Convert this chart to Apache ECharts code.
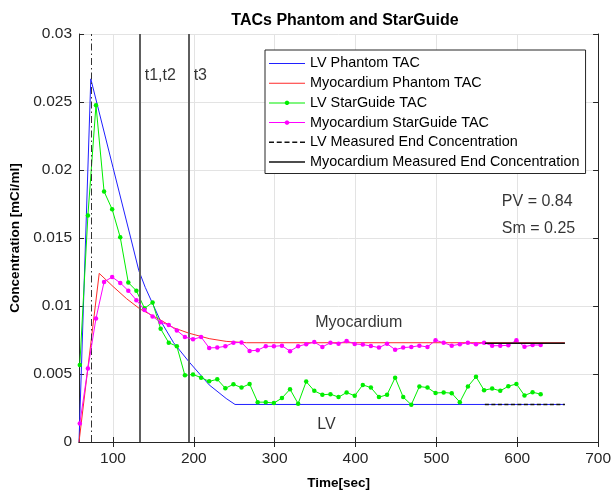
<!DOCTYPE html>
<html>
<head>
<meta charset="utf-8">
<script src="https://cdn.jsdelivr.net/npm/echarts@6/dist/echarts.min.js"></script>
<style>html,body{margin:0;padding:0;background:#fff}#c{width:614px;height:495px}</style>
</head>
<body>
<div id="c"></div>
<script>
// ---- data ----
const times = [59,69,79,89,99,109,119,129,139,149,159,169,179,189,199,209,219,229,239,249,259,269,279,289,299,309,319,329,339,349,359,369,379,389,399,409,419,429,439,449,459,469,479,489,499,509,519,529,539,549,559,569,579,589,599,609,619,629];
const lvStarGuide = [0.00566,0.01665,0.02477,0.01842,0.01711,0.01505,0.01172,0.01112,0.00983,0.01026,0.00832,0.00730,0.00704,0.00490,0.00497,0.00473,0.00446,0.00461,0.00395,0.00424,0.00400,0.00427,0.00293,0.00293,0.00286,0.00323,0.00388,0.00282,0.00444,0.00376,0.00347,0.00352,0.00330,0.00364,0.00340,0.00420,0.00400,0.00330,0.00347,0.00473,0.00330,0.00274,0.00408,0.00400,0.00360,0.00364,0.00359,0.00293,0.00408,0.00480,0.00381,0.00393,0.00376,0.00410,0.00427,0.00342,0.00366,0.00352];
const myoStarGuide = [0.00136,0.00541,0.00908,0.01177,0.01213,0.01170,0.01112,0.01043,0.00971,0.00922,0.00881,0.00861,0.00820,0.00772,0.00755,0.00772,0.00692,0.00694,0.00704,0.00730,0.00732,0.00670,0.00675,0.00704,0.00704,0.00708,0.00668,0.00704,0.00719,0.00735,0.00699,0.00730,0.00723,0.00743,0.00721,0.00716,0.00706,0.00694,0.00723,0.00679,0.00694,0.00699,0.00708,0.00699,0.00748,0.00730,0.00708,0.00719,0.00730,0.00719,0.00730,0.00708,0.00708,0.00711,0.00748,0.00701,0.00713,0.00713];
const lvPhantomTime = [58,72.6,100,122,132,140,158,175,194,219,240,251,659];
const lvPhantom = [0,0.0267,0.0202,0.0150,0.0126,0.01136,0.0090,0.0073,0.0059,0.0042,0.0032,0.00276,0.00276];
const myoPhantomTime = [58,83,100,117,133,158,175,194,219,240,265,659];
const myoPhantom = [0,0.0124,0.01144,0.01053,0.0098,0.0090,0.0084,0.0080,0.0076,0.0074,0.0073,0.0073];
const endTime = [560,659];
const lvEndValue = [0.00275,0.00275];
const myoEndValue = [0.00726,0.00726];
const peakTime = 72.6;
const timeLines = [133.3,193.7];
const xTicks = [100,200,300,400,500,600,700];
const yTicks = [0,0.005,0.01,0.015,0.02,0.025,0.03];
const yTickLabels = ['0','0.005','0.01','0.015','0.02','0.025','0.03'];
const names = ['LV Phantom TAC','Myocardium Phantom TAC','LV StarGuide TAC','Myocardium StarGuide TAC','LV Measured End Concentration','Myocardium Measured End Concentration'];
const notes = [
  {text:'t1,t2', x:139.3, y:0.02694, pos:'right'},
  {text:'t3', x:199.8, y:0.02694, pos:'right'},
  {text:'Myocardium', x:404, y:0.00875, pos:'inside'},
  {text:'LV', x:364, y:0.00125, pos:'inside'},
  {text:'PV = 0.84', x:581, y:0.01769, pos:'right'},
  {text:'Sm = 0.25', x:581, y:0.01572, pos:'right'}
];

const FONT = '"Liberation Sans", Arial, sans-serif';
const AX = '#262626';
const zip = (a, b) => a.map((v, i) => [v, b[i]]);
// legend icon shapes (plain line / line with dot / dashed line), scaled into the legend item box
const ICON_LINE = 'path://M0,0h36v1h-36z';
const ICON_LINE_THICK = 'path://M0,0h36v1.5h-36z';
const ICON_DOT = 'path://M0,2h36v1h-36zM17.1,0.3L18.9,0.3L20.2,1.6L20.2,3.4L18.9,4.7L17.1,4.7L15.8,3.4L15.8,1.6z';
const ICON_DASH = 'path://M0,0h5v1.5h-5zM7.75,0h5v1.5h-5zM15.5,0h5v1.5h-5zM23.25,0h5v1.5h-5zM31,0h5v1.5h-5z';

const chart = echarts.init(document.getElementById('c'), null, {renderer:'canvas'});
const baseX = {type:'value', min:58, max:700};
const option = {
  animation:false,
  backgroundColor:'#fff',
  textStyle:{fontFamily:FONT},
  title:{text:'TACs Phantom and StarGuide', left:340, textAlign:'center', top:8,
    textStyle:{fontFamily:FONT, fontSize:16, fontWeight:'bold', color:'#000'}},
  grid:{left:79, right:12, top:34, bottom:49},
  legend:{orient:'vertical', left:265, top:50, padding:[6,6,4,4], itemGap:4.7, itemWidth:36, itemHeight:6,
    backgroundColor:'#fff', borderColor:AX, borderWidth:1,
    textStyle:{fontFamily:FONT, fontSize:14.4, color:'#000', lineHeight:15},
    data:[
      {name:names[0], icon:ICON_LINE},
      {name:names[1], icon:ICON_LINE},
      {name:names[2], icon:ICON_DOT},
      {name:names[3], icon:ICON_DOT},
      {name:names[4], icon:ICON_DASH},
      {name:names[5], icon:ICON_LINE_THICK}
    ]},
  xAxis:[
    Object.assign({}, baseX, {position:'bottom', name:'Time[sec]', nameLocation:'middle', nameGap:34,
      nameTextStyle:{fontFamily:FONT, fontSize:13.5, fontWeight:'bold', color:'#000'},
      axisLine:{show:true, lineStyle:{color:AX, width:1}},
      axisTick:{show:true, inside:true, length:5, customValues:xTicks, lineStyle:{color:AX}},
      axisLabel:{show:true, customValues:xTicks, margin:9, fontFamily:FONT, fontSize:15.5, color:AX},
      splitLine:{show:true, lineStyle:{color:'#e3e3e3', width:1}}}),
    Object.assign({}, baseX, {position:'top',
      axisLine:{show:true, lineStyle:{color:AX, width:1}},
      axisTick:{show:true, inside:true, length:5, customValues:xTicks, lineStyle:{color:AX}},
      axisLabel:{show:false}, splitLine:{show:false}})
  ],
  yAxis:[
    {type:'value', min:0, max:0.03, interval:0.005, position:'left',
      name:'Concentration [mCi/ml]', nameLocation:'middle', nameGap:54,
      nameTextStyle:{fontFamily:FONT, fontSize:13.5, fontWeight:'bold', color:'#000'},
      axisLine:{show:true, lineStyle:{color:AX, width:1}},
      axisTick:{show:true, inside:true, length:5, lineStyle:{color:AX}},
      axisLabel:{margin:7, fontFamily:FONT, fontSize:15.5, color:AX,
        formatter:(v)=>{const i = yTicks.findIndex(t=>Math.abs(t-v)<1e-9); return i>=0 ? yTickLabels[i] : '';}},
      splitLine:{show:true, lineStyle:{color:'#e3e3e3', width:1}}},
    {type:'value', min:0, max:0.03, interval:0.005, position:'right',
      axisLine:{show:true, lineStyle:{color:AX, width:1}},
      axisTick:{show:true, inside:true, length:5, lineStyle:{color:AX}},
      axisLabel:{show:false}, splitLine:{show:false}}
  ],
  series:[
    {name:names[0], type:'line', data:zip(lvPhantomTime, lvPhantom), symbol:'none', smooth:false,
      lineStyle:{color:'#2020ff', width:1}, itemStyle:{color:'#2020ff'}, z:2,
      markLine:{silent:true, symbol:['none','none'], label:{show:false}, animation:false,
        data:[
          {xAxis:peakTime, lineStyle:{color:'#333', width:1, type:[7,3,1.5,3]}},
          {xAxis:timeLines[0], lineStyle:{color:'#5e5e5e', width:2, type:'solid'}},
          {xAxis:timeLines[1], lineStyle:{color:'#5e5e5e', width:2, type:'solid'}}
        ]}},
    {name:names[1], type:'line', data:zip(myoPhantomTime, myoPhantom), symbol:'none',
      lineStyle:{color:'#ff2a2a', width:1}, itemStyle:{color:'#ff2a2a'}, z:3},
    {name:names[2], type:'line', data:zip(times, lvStarGuide), symbol:'circle', symbolSize:4.5, showSymbol:true,
      lineStyle:{color:'#00ee00', width:1}, itemStyle:{color:'#00ee00'}, z:4},
    {name:names[3], type:'line', data:zip(times, myoStarGuide), symbol:'circle', symbolSize:4.5, showSymbol:true,
      lineStyle:{color:'#ff00ff', width:1}, itemStyle:{color:'#ff00ff'}, z:5},
    {name:names[4], type:'line', data:zip(endTime, lvEndValue), symbol:'none',
      lineStyle:{color:'#111', width:1.5, type:[4,2.5]}, itemStyle:{color:'#111'}, z:6},
    {name:names[5], type:'line', data:zip(endTime, myoEndValue), symbol:'none',
      lineStyle:{color:'#111', width:1.5, type:'solid'}, itemStyle:{color:'#111'}, z:6},
    {name:'notes', type:'scatter', symbolSize:0, silent:true, z:7,
      data:notes.map(n=>({value:[n.x, n.y], label:{show:true, formatter:n.text, position:n.pos, distance:0,
        fontFamily:FONT, fontSize:16, color:'#000'}}))}
  ]
};
chart.setOption(option);
</script>
</body>
</html>
